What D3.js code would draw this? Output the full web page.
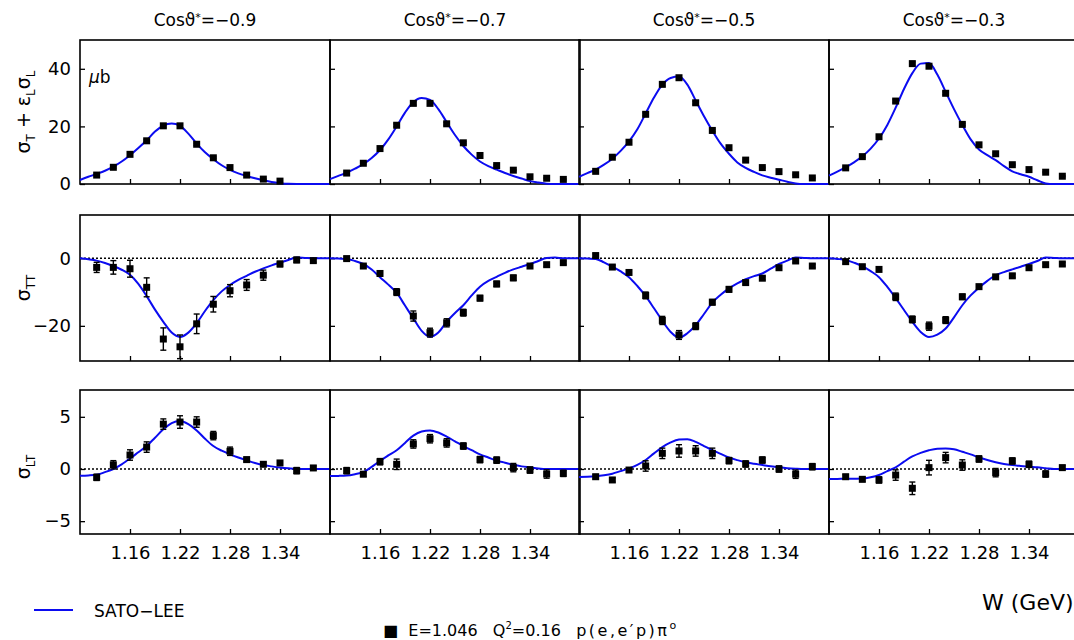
<!DOCTYPE html>
<html>
<head>
<meta charset="utf-8">
<script src="https://cdn.jsdelivr.net/npm/d3@7"></script>
<style>
  html, body { margin: 0; padding: 0; background: #fff; }
  svg text { font-family: "DejaVu Sans", "Liberation Sans", sans-serif; fill: #000; }
  .pre { white-space: pre; }
</style>
</head>
<body>
<script>
// Pion electroproduction structure functions vs W, four cos(theta*) bins
const cosLabels = ["\u22120.9", "\u22120.7", "\u22120.5", "\u22120.3"];
const wPoints = [1.12, 1.14, 1.16, 1.18, 1.20, 1.22, 1.24, 1.26, 1.28, 1.30, 1.32, 1.34, 1.36, 1.38];
const wCurve = [1.10, 1.11, 1.12, 1.13, 1.14, 1.15, 1.16, 1.17, 1.18, 1.19, 1.20,
                1.21, 1.22, 1.23, 1.24, 1.25, 1.26, 1.27, 1.28, 1.29, 1.30,
                1.31, 1.32, 1.33, 1.34, 1.35, 1.36, 1.37, 1.38, 1.39, 1.40];
const wTicks = [1.16, 1.22, 1.28, 1.34];
const wTickLabels = ["1.16", "1.22", "1.28", "1.34"];

// sigma_T + eps_L sigma_L  (microbarn)
const sigTLData = [
  [3.1, 5.8, 10.3, 15.0, 20.2, 20.2, 13.8, 9.1, 5.7, 3.1, 1.7, 1.0, null, null],
  [3.8, 7.2, 12.3, 20.4, 28.0, 28.0, 20.9, 14.3, 9.9, 6.4, 4.8, 2.5, 2.0, 1.6],
  [4.4, 9.3, 14.5, 24.2, 34.6, 36.9, 28.2, 18.6, 12.6, 8.3, 5.7, 4.3, 3.2, 2.1],
  [5.6, 9.5, 16.4, 28.8, 41.8, 40.9, 31.5, 20.7, 13.6, 10.5, 6.7, 5.0, 4.1, 2.7]
];
const sigTLErr = [
  [0.3, 0.3, 0.4, 0.4, 0.5, 0.5, 0.4, 0.3, 0.3, 0.2, 0.2, 0.2, null, null],
  [0.3, 0.3, 0.4, 0.5, 0.6, 0.6, 0.5, 0.4, 0.3, 0.3, 0.2, 0.2, 0.2, 0.2],
  [0.3, 0.3, 0.4, 0.5, 0.6, 0.6, 0.5, 0.4, 0.3, 0.3, 0.2, 0.2, 0.2, 0.2],
  [0.3, 0.3, 0.4, 0.5, 0.6, 0.6, 0.5, 0.4, 0.3, 0.3, 0.2, 0.2, 0.2, 0.2]
];
const sigTLCurve = [
  [1.4, 2.5, 3.5, 4.6, 6.0, 7.8, 10.0, 12.5, 15.2, 18.2, 20.3, 21.0, 20.2, 17.5, 14.0, 11.0, 8.6, 6.5, 4.9, 3.7, 2.8, 2.0, 1.3, 0.7, 0.3, 0.05, 0, 0, 0, 0, 0],
  [1.7, 2.8, 3.9, 5.3, 6.9, 9.0, 11.8, 15.5, 20.0, 24.8, 28.5, 29.9, 29.2, 26.0, 21.5, 17.0, 13.2, 10.2, 7.8, 6.2, 5.0, 3.8, 2.8, 1.9, 1.0, 0.5, 0.1, 0, 0, 0, 0],
  [2.5, 3.8, 5.0, 6.7, 8.8, 11.5, 14.8, 19.0, 24.5, 30.0, 34.5, 36.8, 37.3, 34.5, 29.0, 23.5, 18.5, 14.0, 10.5, 7.5, 5.6, 4.2, 3.0, 2.2, 1.5, 0.8, 0.2, 0, 0, 0, 0],
  [2.9, 4.3, 5.8, 7.5, 9.6, 12.3, 15.8, 20.5, 26.5, 33.0, 38.5, 41.8, 42.0, 38.0, 32.0, 26.0, 20.5, 15.5, 12.0, 10.0, 8.3, 6.2, 4.4, 3.4, 2.5, 1.3, 0.2, 0, 0, 0, 0]
];

// sigma_TT
const sigTTData = [
  [-2.7, -2.7, -3.1, -8.6, -23.9, -26.2, -19.4, -13.6, -9.6, -7.9, -5.0, -1.7, -0.5, -0.7],
  [-0.1, -2.3, -4.5, -10.0, -17.1, -22.0, -19.1, -16.1, -11.8, -7.6, -5.8, -2.3, -1.9, -1.3],
  [0.8, -2.6, -4.2, -11.0, -18.4, -22.7, -20.1, -13.0, -9.2, -7.2, -5.9, -2.8, -0.8, -2.3],
  [-1.0, -2.5, -3.3, -11.4, -18.1, -20.1, -18.3, -11.4, -8.4, -5.5, -5.2, -2.8, -1.9, -1.7]
];
const sigTTErr = [
  [1.5, 2.0, 2.5, 2.8, 3.3, 3.5, 2.9, 2.3, 1.8, 1.6, 1.5, 0.8, 0.8, 0.5],
  [0.5, 0.5, 0.8, 1.0, 1.5, 1.3, 1.2, 1.0, 0.8, 0.8, 0.8, 0.5, 0.5, 0.5],
  [0.5, 0.5, 0.5, 1.0, 1.2, 1.3, 1.0, 0.8, 0.8, 0.5, 0.5, 0.5, 0.5, 0.5],
  [0.6, 0.5, 0.5, 1.1, 1.0, 1.2, 1.0, 0.8, 0.6, 0.5, 0.5, 0.5, 0.5, 0.5]
];
const sigTTCurve = [
  [0, -0.3, -0.7, -1.4, -2.3, -3.4, -4.9, -7.6, -11.2, -15.2, -18.8, -22.0, -23.3, -22.0, -19.2, -15.6, -12.4, -9.8, -7.9, -6.4, -5.2, -4.0, -3.0, -2.1, -1.3, -0.5, 0.2, 0.1, 0, 0, 0],
  [0, -0.1, -0.2, -0.8, -1.7, -3.3, -5.6, -7.8, -10.2, -14.0, -17.8, -21.5, -23.3, -22.0, -18.8, -16.2, -13.9, -11.0, -8.4, -6.7, -5.5, -4.3, -3.3, -2.5, -1.7, -0.8, 0.1, 0.2, 0, 0, 0],
  [0, -0.1, -0.2, -1.2, -2.5, -3.9, -5.6, -8.2, -11.2, -14.8, -18.5, -21.8, -23.5, -22.2, -19.8, -16.5, -13.1, -10.8, -8.9, -7.4, -6.2, -5.3, -4.5, -3.1, -1.7, -0.7, 0.2, 0.1, 0, 0, 0],
  [0, -0.2, -0.5, -1.3, -2.3, -3.8, -5.6, -8.5, -11.8, -15.3, -18.8, -21.8, -23.3, -22.6, -20.8, -17.5, -13.9, -11.0, -8.7, -6.7, -5.0, -4.1, -3.3, -2.5, -1.7, -0.8, 0.2, 0.1, 0, 0, 0]
];

// sigma_LT
const sigLTData = [
  [-0.8, 0.4, 1.34, 2.1, 4.3, 4.5, 4.5, 3.2, 1.7, 0.9, 0.45, 0.58, -0.16, 0.1],
  [-0.16, -0.5, 0.7, 0.45, 2.4, 2.9, 2.5, 2.2, 0.9, 0.85, 0.13, -0.1, -0.48, -0.42],
  [-0.74, -1.05, -0.1, 0.29, 1.5, 1.73, 1.73, 1.5, 0.8, 0.48, 0.86, 0.0, -0.5, 0.22],
  [-0.74, -0.99, -1.05, -0.58, -1.85, 0.13, 1.09, 0.38, 0.96, -0.35, 0.77, 0.45, -0.48, 0.13]
];
const sigLTErr = [
  [0.3, 0.4, 0.5, 0.5, 0.5, 0.6, 0.5, 0.4, 0.4, 0.2, 0.2, 0.2, 0.3, 0.2],
  [0.3, 0.2, 0.3, 0.5, 0.4, 0.4, 0.4, 0.3, 0.3, 0.3, 0.4, 0.3, 0.4, 0.3],
  [0.2, 0.2, 0.2, 0.5, 0.5, 0.6, 0.5, 0.5, 0.3, 0.3, 0.3, 0.3, 0.4, 0.3],
  [0.2, 0.2, 0.3, 0.5, 0.6, 0.7, 0.5, 0.5, 0.3, 0.4, 0.3, 0.3, 0.3, 0.2]
];
const sigLTCurve = [
  [-0.65, -0.62, -0.55, -0.3, 0.0, 0.45, 1.0, 1.6, 2.2, 3.0, 3.8, 4.4, 4.6, 4.3, 3.7, 2.9, 2.2, 1.75, 1.4, 1.1, 0.83, 0.58, 0.38, 0.25, 0.14, 0.06, 0, 0, 0, 0, 0],
  [-0.67, -0.66, -0.63, -0.5, -0.3, 0.2, 0.78, 1.3, 1.8, 2.5, 3.2, 3.6, 3.7, 3.5, 3.1, 2.65, 2.2, 1.8, 1.4, 1.1, 0.8, 0.6, 0.4, 0.25, 0.15, 0.05, 0, 0, 0, 0, 0],
  [-0.77, -0.75, -0.7, -0.6, -0.45, -0.2, 0.06, 0.4, 0.86, 1.5, 2.1, 2.55, 2.82, 2.85, 2.6, 2.2, 1.8, 1.45, 1.1, 0.85, 0.64, 0.5, 0.38, 0.26, 0.16, 0.08, 0.03, 0, 0, 0, 0],
  [-0.96, -0.95, -0.94, -0.93, -0.92, -0.8, -0.58, -0.2, 0.16, 0.7, 1.2, 1.55, 1.8, 1.95, 1.97, 1.9, 1.65, 1.4, 1.1, 0.86, 0.65, 0.48, 0.37, 0.29, 0.22, 0.16, 0.08, 0, 0, 0, 0]
];

const yTicksTL = [0, 20, 40];
const yTicksTT = [-20, 0];
const yTicksLT = [-5, 0, 5];

// ---- layout ----
const W = 1074, H = 640;
const colLeft = [80, 330, 579, 829];
const colWidth = 250;
const rows = [
  { top: 40,  bottom: 184, domain: [0, 50],        ticks: yTicksTL, data: sigTLData, err: sigTLErr, curve: sigTLCurve, zero: false },
  { top: 215, bottom: 361, domain: [-30.4, 12.8],  ticks: yTicksTT, data: sigTTData, err: sigTTErr, curve: sigTTCurve, zero: true },
  { top: 390, bottom: 534, domain: [-6.23, 7.57],  ticks: yTicksLT, data: sigLTData, err: sigLTErr, curve: sigLTCurve, zero: true }
];
const lineBlue = "#0b0bf0";

const svg = d3.select("body").append("svg")
  .attr("width", W).attr("height", H)
  .attr("viewBox", `0 0 ${W} ${H}`);

const fmtMinus = d => (d < 0 ? "\u2212" + Math.abs(d) : String(d));

rows.forEach((row, ri) => {
  const y = d3.scaleLinear().domain(row.domain).range([row.bottom, row.top]);

  // dotted zero line across the whole row
  if (row.zero) {
    svg.append("line")
      .attr("x1", colLeft[0]).attr("x2", W)
      .attr("y1", y(0)).attr("y2", y(0))
      .attr("stroke", "#000").attr("stroke-width", 1.6)
      .attr("stroke-dasharray", "2,2");
  }

  colLeft.forEach((left, ci) => {
    const x = d3.scaleLinear().domain([1.10, 1.40]).range([left, left + colWidth]);
    const g = svg.append("g");

    // left axis: inward ticks, labels only on the first column
    const yAxis = d3.axisLeft(y).tickValues(row.ticks).tickSize(-5).tickPadding(9)
      .tickFormat(ci === 0 ? fmtMinus : () => "");
    g.append("g").attr("transform", `translate(${left},0)`).call(yAxis)
      .call(s => s.select(".domain").remove())
      .call(s => s.selectAll(".tick line").attr("stroke", "#000").attr("stroke-width", 1.3))
      .call(s => s.selectAll(".tick text").attr("font-size", 18)
        .attr("font-family", "DejaVu Sans, sans-serif").attr("fill", "#000"));

    // bottom axis: inward ticks, labels only on the last row
    const xAxis = d3.axisBottom(x).tickValues(wTicks).tickSize(-5).tickPadding(12)
      .tickFormat((d, i) => (ri === 2 ? wTickLabels[i] : ""));
    g.append("g").attr("transform", `translate(0,${row.bottom})`).call(xAxis)
      .call(s => s.select(".domain").remove())
      .call(s => s.selectAll(".tick line").attr("stroke", "#000").attr("stroke-width", 1.3))
      .call(s => s.selectAll(".tick text").attr("font-size", 18)
        .attr("font-family", "DejaVu Sans, sans-serif").attr("fill", "#000"));

    // panel frame
    g.append("rect")
      .attr("x", left).attr("y", row.top)
      .attr("width", colWidth).attr("height", row.bottom - row.top)
      .attr("fill", "none").attr("stroke", "#000").attr("stroke-width", 1.6);

    // model curve
    const line = d3.line()
      .x((d, i) => x(wCurve[i]))
      .y(d => y(d))
      .curve(d3.curveMonotoneX);
    g.append("path")
      .datum(row.curve[ci])
      .attr("d", line)
      .attr("fill", "none")
      .attr("stroke", lineBlue)
      .attr("stroke-width", 2);

    // data points with error bars
    const pts = wPoints.map((w, i) => ({ w, v: row.data[ci][i], e: row.err[ci][i] }))
      .filter(p => p.v !== null);
    const eg = g.append("g").attr("stroke", "#000").attr("stroke-width", 1.4);
    pts.forEach(p => {
      const cx = x(p.w), y1 = y(p.v - p.e), y2 = y(p.v + p.e);
      eg.append("line").attr("x1", cx).attr("x2", cx).attr("y1", y1).attr("y2", y2);
      eg.append("line").attr("x1", cx - 3).attr("x2", cx + 3).attr("y1", y1).attr("y2", y1);
      eg.append("line").attr("x1", cx - 3).attr("x2", cx + 3).attr("y1", y2).attr("y2", y2);
    });
    g.selectAll("rect.pt").data(pts).enter().append("rect")
      .attr("class", "pt")
      .attr("x", p => x(p.w) - 3.5).attr("y", p => y(p.v) - 3.5)
      .attr("width", 7).attr("height", 7)
      .attr("fill", "#000");
  });
});

// column titles
colLeft.forEach((left, ci) => {
  const t = svg.append("text")
    .attr("x", left + colWidth / 2).attr("y", 26)
    .attr("text-anchor", "middle").attr("font-size", 17);
  t.append("tspan").text("Cos\u03d1");
  t.append("tspan").attr("font-size", 11).attr("dy", -5).text("*");
  t.append("tspan").attr("dy", 5).text("=" + cosLabels[ci]);
});

// row labels with subscripts
function subLabel(xc, yc, parts) {
  const t = svg.append("text")
    .attr("transform", `translate(${xc},${yc}) rotate(-90)`)
    .attr("text-anchor", "middle").attr("font-size", 19);
  let shifted = false;
  parts.forEach(([txt, sub]) => {
    const s = t.append("tspan").text(txt);
    if (sub && !shifted) { s.attr("font-size", 12).attr("dy", 5); shifted = true; }
    else if (!sub && shifted) { s.attr("dy", -5); shifted = false; }
    else if (sub) s.attr("font-size", 12);
  });
}
subLabel(30, 112, [["\u03c3", false], ["T", true], [" + \u03b5", false], ["L", true], ["\u03c3", false], ["L", true]]);
subLabel(30, 288, [["\u03c3", false], ["TT", true]]);
subLabel(30, 467, [["\u03c3", false], ["LT", true]]);

// unit label
svg.append("text").attr("x", 89).attr("y", 83).attr("font-size", 17)
  .html('<tspan font-style="italic">\u03bc</tspan>b');

// legend
const legY = 610;
svg.append("line").attr("x1", 34).attr("x2", 73).attr("y1", legY).attr("y2", legY)
  .attr("stroke", lineBlue).attr("stroke-width", 1.8);
svg.append("text").attr("x", 94).attr("y", legY + 7).attr("font-size", 17).text("SATO\u2212LEE");

svg.append("text").attr("x", 982).attr("y", 610).attr("font-size", 22).text("W (GeV)");

const info = svg.append("text").attr("class", "pre").attr("x", 383).attr("y", 636).attr("font-size", 16);
info.append("tspan").text("\u25a0  E=1.046   Q");
info.append("tspan").attr("font-size", 10).attr("dy", -7).text("2");
info.append("tspan").attr("dy", 7).text("=0.16   ");
info.append("tspan").attr("letter-spacing", 2.5).text("p(e,e\u2032p)\u03c0");
info.append("tspan").attr("font-size", 11).attr("dy", -7).text("o");
</script>
</body>
</html>
